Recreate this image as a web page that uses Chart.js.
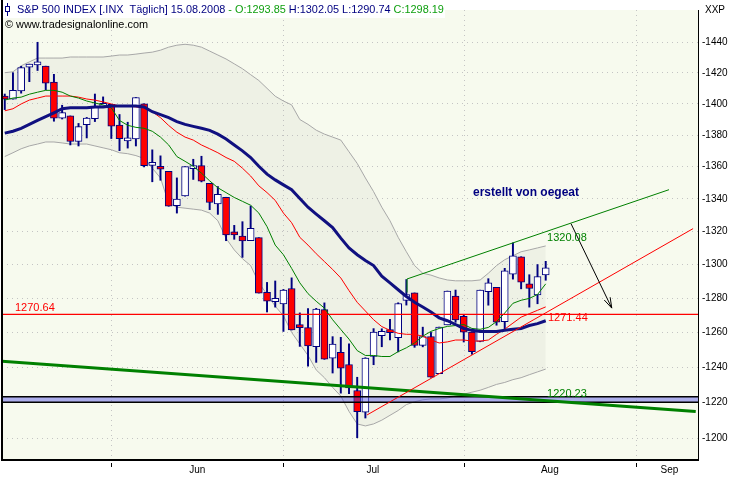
<!DOCTYPE html>
<html>
<head>
<meta charset="utf-8">
<script src="https://cdn.jsdelivr.net/npm/chart.js@4.4.0/dist/chart.umd.min.js"></script>
<style>
html, body { margin: 0; padding: 0; background: #fff; }
</style>
</head>
<body>
<canvas id="graphique" width="740" height="480"></canvas>
<script>
// S&P 500 daily, 13.05.2008 - 15.08.2008 (index 0 = 13.05.)
const opens = [1404.40,1403.04,1408.36,1423.89,1425.28,1424.49,1414.06,1390.83,1392.20,1375.97,
  1386.54,1390.50,1398.36,1399.62,1386.42,1376.26,1377.48,1400.06,1360.83,1358.98,
  1357.09,1335.78,1341.81,1358.85,1360.71,1349.59,1336.89,1341.02,1319.77,1317.23,
  1314.54,1316.29,1283.60,1278.06,1276.69,1285.82,1262.96,1262.90,1251.84,1273.38,
  1245.25,1248.66,1241.61,1226.83,1214.65,1246.31,1258.22,1261.82,1257.08,1278.87,
  1283.22,1252.62,1257.76,1236.38,1264.52,1281.37,1269.42,1260.31,1254.87,1283.99,
  1286.51,1266.29,1294.42,1304.79,1288.64,1282.11,1293.85];
const highs = [1406.32,1420.19,1424.40,1425.82,1440.24,1424.49,1419.12,1399.07,1392.20,1387.40,
  1391.25,1406.32,1404.46,1399.62,1393.12,1388.18,1404.05,1400.06,1370.63,1366.84,
  1357.09,1353.03,1360.03,1364.70,1366.59,1349.59,1347.66,1341.02,1323.78,1326.02,
  1335.63,1316.29,1289.45,1290.31,1285.31,1292.17,1271.48,1273.95,1274.17,1277.36,
  1257.65,1257.27,1253.50,1234.35,1245.52,1262.31,1262.23,1267.74,1277.42,1291.17,
  1283.22,1263.16,1260.09,1263.20,1284.33,1284.93,1270.52,1260.49,1284.88,1291.67,
  1286.51,1297.85,1313.15,1304.79,1294.03,1300.11,1302.05];
const lows = [1396.26,1403.04,1406.87,1414.35,1421.63,1409.09,1388.81,1390.23,1373.72,1373.07,
  1378.16,1388.59,1398.08,1377.79,1370.12,1371.74,1373.07,1359.90,1350.62,1351.56,
  1335.47,1331.29,1341.71,1352.07,1350.54,1333.40,1330.50,1314.46,1315.31,1304.42,
  1314.54,1283.15,1272.00,1274.86,1260.68,1261.51,1252.01,1240.68,1242.84,1244.57,
  1236.76,1225.35,1225.01,1200.44,1211.39,1241.49,1251.81,1255.70,1248.83,1276.06,
  1251.48,1251.75,1234.37,1236.38,1264.52,1265.97,1254.54,1247.45,1254.67,1276.00,
  1264.29,1261.11,1291.41,1285.64,1274.86,1276.84,1290.74];
const closes = [1403.04,1408.66,1423.57,1425.35,1426.63,1413.40,1390.71,1394.35,1375.93,1385.35,
  1390.84,1398.26,1400.38,1385.67,1377.65,1377.20,1404.05,1360.68,1361.76,1358.44,
  1335.49,1339.87,1360.03,1360.14,1350.93,1337.81,1342.83,1317.93,1318.00,1314.29,
  1321.97,1283.15,1278.38,1280.00,1284.91,1261.52,1262.90,1252.31,1273.70,1244.69,
  1253.39,1239.49,1228.30,1214.91,1245.36,1260.32,1260.68,1260.00,1277.00,1282.19,
  1252.54,1257.76,1234.37,1263.20,1284.26,1267.38,1260.31,1249.01,1284.88,1289.19,
  1266.07,1296.32,1305.32,1289.59,1285.83,1292.93,1298.19];

// indikatoren
const bbUpper = [1420.2,1420.8,1424.7,1427.3,1429.8,1429.8,1429.8,1429.8,1430.5,1430.5,
  1430.5,1430.5,1430.5,1431.1,1431.8,1431.8,1432.4,1433.1,1433.7,1435.0,
  1437.0,1438.3,1438.9,1438.3,1437.0,1434.4,1431.8,1429.2,1426.0,1422.8,
  1418.9,1415.1,1410.0,1404.9,1401.8,1399.3,1389.9,1386.8,1383.1,1380.6,
  1378.7,1376.8,1369.4,1362.1,1353.0,1344.5,1334.9,1326.6,1316.5,1307.8,
  1299.5,1294.9,1293.8,1292.1,1290.9,1290.4,1290.4,1290.4,1290.9,1294.9,
  1299.5,1303.0,1305.4,1307.8,1308.9,1310.1,1311.3];
const bbLower = [1366.4,1368.8,1371.3,1373.1,1374.3,1375.6,1375.6,1375.0,1374.3,1374.3,
  1374.3,1373.1,1371.9,1370.7,1368.8,1368.2,1367.0,1365.2,1359.1,1353.0,
  1337.3,1334.9,1334.3,1333.7,1333.1,1331.3,1326.6,1315.9,1308.9,1303.6,
  1299.5,1289.2,1282.3,1275.4,1269.8,1260.1,1253.4,1246.8,1238.5,1234.1,
  1228.6,1223.7,1215.1,1208.1,1207.0,1208.1,1210.2,1212.9,1215.6,1218.9,
  1220.5,1221.6,1222.1,1222.1,1222.6,1223.7,1224.8,1225.9,1227.0,1228.6,
  1230.3,1231.4,1233.0,1234.1,1235.8,1237.4,1239.0];
const maGreen = [1402.4,1403.7,1404.3,1406.2,1407.5,1408.7,1408.7,1407.5,1405.0,1403.7,
  1401.8,1400.5,1399.3,1397.4,1389.3,1386.2,1384.9,1384.3,1382.4,1378.7,
  1373.7,1366.4,1363.4,1360.3,1356.0,1351.2,1346.9,1343.9,1340.9,1338.5,
  1336.1,1331.3,1323.0,1311.8,1306.0,1297.8,1289.2,1282.8,1278.3,1274.3,
  1267.5,1261.8,1256.2,1249.6,1246.8,1246.8,1246.2,1246.2,1249.0,1251.2,
  1254.0,1257.9,1260.7,1262.4,1263.6,1264.1,1264.7,1262.4,1261.9,1263.0,
  1266.4,1271.4,1277.1,1278.9,1280.0,1282.3,1288.6];
const maRed = [1395.5,1396.8,1399.9,1402.4,1403.7,1405.0,1405.0,1405.0,1405.0,1404.3,
  1403.1,1402.4,1401.2,1399.9,1398.6,1398.6,1398.0,1397.4,1394.9,1391.1,
  1386.1,1381.8,1378.7,1376.8,1373.7,1371.3,1368.8,1365.8,1363.4,1359.1,
  1354.2,1348.1,1343.9,1339.1,1331.3,1325.4,1316.5,1311.8,1306.6,1301.9,
  1297.2,1292.1,1284.6,1277.7,1272.6,1267.5,1263.5,1261.3,1259.6,1259.0,
  1259.0,1257.9,1255.7,1254.0,1254.6,1255.7,1255.7,1255.1,1255.1,1255.7,
  1259.0,1262.0,1265.5,1269.0,1271.0,1273.0,1275.0];
const maBlue = [1381.2,1382.4,1384.3,1386.8,1389.3,1391.7,1394.2,1396.8,1397.4,1397.4,
  1397.4,1398.0,1398.0,1398.6,1398.6,1398.6,1398.6,1398.0,1394.9,1393.0,
  1391.1,1388.6,1386.8,1385.5,1384.3,1383.0,1380.6,1377.5,1373.7,1370.0,
  1365.8,1360.3,1355.4,1351.8,1348.7,1345.7,1340.3,1334.9,1330.7,1326.6,
  1322.4,1316.0,1310.1,1306.0,1302.5,1299.5,1293.2,1289.2,1285.1,1281.1,
  1277.7,1274.9,1272.0,1268.6,1266.9,1264.7,1262.4,1261.3,1260.7,1260.7,
  1260.7,1261.3,1261.9,1262.4,1264.1,1265.2,1266.9];

// zeichnungen: [index, kurs]
const greenChannel = [[49.08, 1283.5], [49.08, 1291.5], [81.04, 1345.7]];
const redTrend = [[44.2, 1213.1], [83.98, 1321.8]];
const greenSupport = [[-0.34, 1243.5], [84.3, 1215.1]];
const arrowLine = [[69.09, 1324.8], [74.06, 1274.3]];
const hLevel = 1270.64;
const bandLow = 1220.23;
const bandHigh = 1223.3;

// achsen
const yTicks = [1200,1220,1240,1260,1280,1300,1320,1340,1360,1380,1400,1420,1440];
const monthStarts = [13, 34, 56, 77];
const monthLabels = ['Jun', 'Jul', 'Aug', 'Sep'];
const monthLabelPos = [23.5, 44.9, 66.5, 81.1];
const xMin = -0.336, xMax = 84.58;
const yMin = 1188.2, yMax = 1461.8;

const FONT = '"Liberation Sans", Arial, sans-serif';
const NAVY = '#000080';

const pts = arr => arr.map((v, i) => ({x: i, y: v}));
const xy = arr => arr.map(p => ({x: p[0], y: p[1]}));

const bodyData = opens.map((o, i) => ({x: i, y: [o, closes[i]]}));
const wickData = lows.map((l, i) => ({x: i, y: [l, highs[i]]}));
const bodyColors = opens.map((o, i) => closes[i] >= o ? '#ffffff' : '#ff0000');

function line(label, data, color, width, order, extra) {
  return Object.assign({type: 'line', label: label, data: data, borderColor: color,
    borderWidth: width, pointRadius: 0, tension: 0, fill: false, order: order}, extra || {});
}

const datasets = [
  line('bbUpper', pts(bbUpper), '#a8a8a8', 1, 30, {fill: '+1', backgroundColor: 'rgba(170,170,160,0.10)'}),
  line('bbLower', pts(bbLower), '#a8a8a8', 1, 29),
  {type: 'bar', label: 'wicks', data: wickData, backgroundColor: NAVY, barThickness: 1.3,
    grouped: false, order: 25},
  {type: 'bar', label: 'bodies', data: bodyData, backgroundColor: bodyColors, borderColor: NAVY,
    borderWidth: 1, borderSkipped: false, barThickness: 7, minBarLength: 3, grouped: false, order: 24},
  line('maRed', pts(maRed), '#ff0000', 1, 12),
  line('maGreen', pts(maGreen), '#008000', 1, 11),
  line('maBlue', pts(maBlue), '#101080', 3, 10),
  line('bandTop', xy([[xMin, bandHigh], [xMax, bandHigh]]), '#000000', 1.5, 8,
    {fill: '+1', backgroundColor: 'rgba(80,80,230,0.45)'}),
  line('bandBottom', xy([[xMin, bandLow], [xMax, bandLow]]), '#000000', 1.5, 7),
  line('greenSupport', xy(greenSupport), '#008000', 3, 6),
  line('greenChannel', xy(greenChannel), '#008000', 1, 5),
  line('redTrend', xy(redTrend), '#ff0000', 1, 4),
  line('hLevel', xy([[xMin, hLevel], [xMax, hLevel]]), '#ff0000', 1.3, 3),
  line('arrow', xy(arrowLine), '#000000', 1, 2)
];
const ARROW = datasets.length - 1;

// beschriftungen im chart
const notes = [
  {text: '1270.64', x: 1.25, y: 1274.6, color: '#ff0000', font: '11px ' + FONT},
  {text: '1271.44', x: 66.28, y: 1268.4, color: '#ff0000', font: '11px ' + FONT},
  {text: '1320.08', x: 66.16, y: 1315.9, color: '#008000', font: '11px ' + FONT},
  {text: '1220.23', x: 66.16, y: 1225.0, color: '#008000', font: '11px ' + FONT},
  {text: 'erstellt von oegeat', x: 57.13, y: 1343.9, color: NAVY, font: 'bold 12px ' + FONT}
];

const decor = {
  id: 'decor',
  beforeDraw(chart) {
    const {ctx, chartArea: a} = chart;
    ctx.save();
    ctx.fillStyle = '#ffffff';
    ctx.fillRect(0, 0, chart.width, chart.height);
    ctx.fillStyle = '#f7faee';
    ctx.fillRect(a.left, a.top, a.right - a.left, a.bottom - a.top);
    ctx.restore();
  },
  beforeDatasetsDraw(chart) {
    const {ctx, chartArea: a, scales: {x}} = chart;
    ctx.save();
    ctx.strokeStyle = '#c4c4c4';
    ctx.lineWidth = 1;
    ctx.setLineDash([1, 4]);
    monthStarts.forEach(m => {
      const px = Math.round(x.getPixelForValue(m)) + 0.5;
      ctx.beginPath();
      ctx.moveTo(px, a.top);
      ctx.lineTo(px, a.bottom);
      ctx.stroke();
    });
    ctx.restore();
  },
  afterDraw(chart) {
    const {ctx, chartArea: a, scales: {x, y}} = chart;
    ctx.save();
    // linker rand
    ctx.fillStyle = '#000';
    ctx.fillRect(1, 0, 2, a.bottom + 1);
    // monats-ticks unter der achse
    ctx.strokeStyle = '#000';
    ctx.lineWidth = 1;
    monthStarts.forEach(m => {
      const px = Math.round(x.getPixelForValue(m)) + 0.5;
      ctx.beginPath();
      ctx.moveTo(px, a.bottom + 3);
      ctx.lineTo(px, a.bottom + 7);
      ctx.stroke();
    });
    // pfeilspitze
    const p = chart.getDatasetMeta(ARROW).data;
    const ang = Math.atan2(p[1].y - p[0].y, p[1].x - p[0].x);
    ctx.beginPath();
    [-0.3, 0.3].forEach(d => {
      ctx.moveTo(p[1].x, p[1].y);
      ctx.lineTo(p[1].x - 11 * Math.cos(ang + d), p[1].y - 11 * Math.sin(ang + d));
    });
    ctx.stroke();
    // texte
    ctx.textBaseline = 'middle';
    ctx.textAlign = 'left';
    notes.forEach(n => {
      ctx.font = n.font;
      ctx.fillStyle = n.color;
      ctx.fillText(n.text, x.getPixelForValue(n.x), y.getPixelForValue(n.y));
    });
    // titel
    ctx.fillStyle = '#ffffff';
    ctx.fillRect(3, 0, 442, 18);
    ctx.strokeStyle = NAVY;
    ctx.beginPath();
    ctx.moveTo(7.5, 3); ctx.lineTo(7.5, 16);
    ctx.stroke();
    ctx.fillStyle = '#fff';
    ctx.fillRect(5.5, 6.5, 4, 5);
    ctx.strokeRect(5.5, 6.5, 4, 5);
    const last = closes.length - 1;
    const parts = [
      ['S&P 500 INDEX [.INX  Täglich] 15.08.2008 ', NAVY],
      ['- O:' + opens[last].toFixed(2) + ' ', '#10a010'],
      ['H:' + highs[last].toFixed(2) + ' L:' + lows[last].toFixed(2) + ' ', NAVY],
      ['C:' + closes[last].toFixed(2), '#10a010']
    ];
    ctx.font = '10.9px ' + FONT;
    let tx = 17;
    parts.forEach(pt => {
      ctx.fillStyle = pt[1];
      ctx.fillText(pt[0], tx, 9.5);
      tx += ctx.measureText(pt[0]).width;
    });
    ctx.fillStyle = '#000';
    ctx.fillText('\u00a9 www.tradesignalonline.com', 5, 25);
    ctx.font = '10px ' + FONT;
    ctx.fillText('XXP', 705, 10);
    ctx.restore();
  }
};

new Chart(document.getElementById('graphique'), {
  type: 'bar',
  data: {datasets: datasets},
  plugins: [decor],
  options: {
    responsive: false,
    animation: false,
    events: [],
    layout: {padding: {left: 2, top: 0, right: 0, bottom: 0}},
    plugins: {legend: {display: false}, tooltip: {enabled: false}},
    scales: {
      x: {
        type: 'linear', min: xMin, max: xMax, offset: false,
        grid: {color: 'rgba(0,0,0,0)', drawTicks: false, offset: false},
        border: {display: true, color: '#000', width: 2},
        afterBuildTicks: s => { s.ticks = monthLabelPos.map(v => ({value: v})); },
        afterFit: s => { s.height = 20; },
        ticks: {autoSkip: false, maxRotation: 0, padding: 4, color: '#000',
          font: {family: FONT, size: 10}, callback: (v, i) => monthLabels[i]}
      },
      y: {
        type: 'logarithmic', position: 'right', min: yMin, max: yMax,
        grid: {color: '#c4c4c4', drawTicks: false},
        border: {display: true, color: '#000', width: 1, dash: [1, 4]},
        afterBuildTicks: s => { s.ticks = yTicks.map(v => ({value: v})); },
        afterFit: s => { s.width = 42; },
        ticks: {padding: 4, color: '#000', font: {family: FONT, size: 10},
          callback: v => '-' + v}
      }
    }
  }
});
</script>
</body>
</html>
